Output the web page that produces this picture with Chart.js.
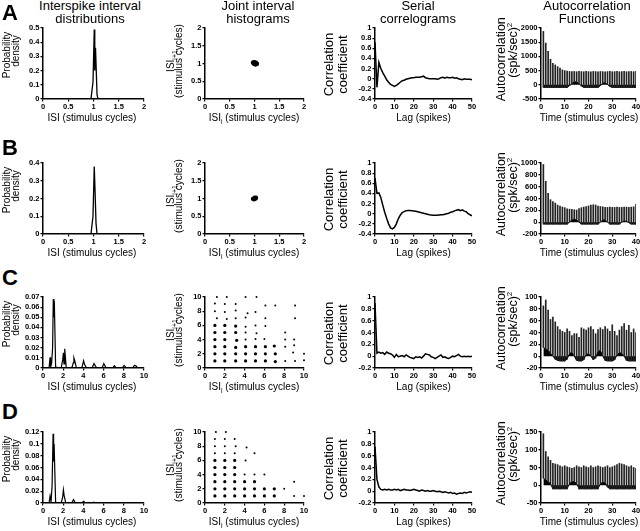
<!DOCTYPE html>
<html lang="en">
<head>
  <meta charset="UTF-8">
  <title>Interval statistics</title>
  <script src="https://cdn.jsdelivr.net/npm/chart.js"></script>
  <style>
    body { margin: 0; background: #fff; }
    #fig { position: relative; width: 640px; height: 531px; overflow: hidden; font-family: "Liberation Sans", Arial, sans-serif; color: #000; }
    #fig canvas { position: absolute; }
    .txt { position: absolute; white-space: nowrap; text-align: center; }
    .sub { font-size: 7px; position: relative; top: 2.5px; }
    .sup { font-size: 8px; position: relative; top: -5px; }
  </style>
</head>
<body>
<div id="fig"></div>

<script>
  // ---- column 1: interspike interval distributions ----
  const ISI_A_X = [0, 0.95, 0.99, 1.015, 1.025, 1.04, 1.07, 1.09, 2];
  const ISI_A_Y = [0, 0, 0.12, 0.49, 0.2, 0.36, 0.03, 0, 0];
  const ISI_B_X = [0, 0.95, 0.99, 1.015, 1.03, 1.05, 1.07, 2];
  const ISI_B_Y = [0, 0, 0.1, 0.38, 0.25, 0.06, 0, 0];
  const ISI_C_X = [0, 0.6, 0.7, 0.75, 0.85, 0.95, 1.02, 1.08, 1.12, 1.25, 1.8, 1.95, 2.02, 2.08, 2.15, 2.3,
                   2.85, 3.0, 3.06, 3.15, 3.3, 3.85, 4.02, 4.1, 4.3, 4.85, 5.05, 5.3, 5.85, 6.02, 6.25,
                   6.9, 7.06, 7.25, 7.85, 8.03, 8.25, 8.85, 9.05, 9.2, 9.35, 10];
  const ISI_C_Y = [0, 0, 0.0105, 0.001, 0.004, 0.02, 0.068, 0.05, 0.066, 0.001, 0, 0.008, 0.015, 0.004, 0.019, 0.0005,
                   0, 0.005, 0.01, 0.007, 0.0003, 0, 0.0072, 0.004, 0.0002, 0, 0.0043, 0.0002, 0, 0.0043, 0.0002,
                   0, 0.0023, 0.0002, 0, 0.0026, 0.0002, 0, 0.0026, 0.0022, 0.0002, 0];
  const ISI_D_X = [0, 0.6, 0.7, 0.8, 0.9, 1.0, 1.05, 1.1, 1.25, 1.8, 1.95, 2.02, 2.1, 2.25, 2.85, 3.02, 3.2,
                   3.85, 4.02, 4.2, 4.85, 5.02, 5.2, 10];
  const ISI_D_Y = [0, 0, 0.012, 0.002, 0.03, 0.117, 0.07, 0.1, 0.001, 0, 0.01, 0.022, 0.012, 0.0005, 0, 0.006, 0.0003,
                   0, 0.003, 0.0002, 0, 0.0015, 0, 0];

  // ---- column 2: joint interval histograms ----
  const JOINT_A_X = [0.97, 1.0, 1.03, 1.05, 0.99, 1.02, 1.04, 0.98];
  const JOINT_A_Y = [1.03, 1.04, 1.02, 0.99, 0.99, 0.97, 1.0, 1.01];
  const JOINT_B_X = [0.97, 1.0, 1.02, 0.99, 1.01, 1.03];
  const JOINT_B_Y = [0.99, 1.02, 1.0, 0.98, 1.01, 1.02];
  const JOINT_C_X = [1.2, 2.2, 4.1, 5.2,
                     1, 2, 3.1, 6.1, 7.1, 9.1,
                     1, 2, 3.1, 4.3, 5.1,
                     1.2, 2.2, 3.1, 4.1, 6.1, 9.1,
                     1, 2, 3.1, 4.1, 5.1, 6.1,
                     1, 2, 3.1, 4.1, 5.2, 8.1,
                     1, 2, 3.2, 4.1, 5.1, 6, 8.1, 9,
                     1, 2, 3.1, 4.1, 5.1, 6.1, 7, 8.1, 9,
                     1, 2, 3.1, 4.1, 5.1, 6.1, 7.1, 8.9, 10,
                     1, 2, 3.1, 4.1, 5.1, 6.1, 7.1, 8.1, 9.1, 10];
  const JOINT_C_Y = [10, 10, 10, 10,
                     9.1, 9, 9, 8.8, 8.8, 8.8,
                     8, 7.9, 8.1, 7.7, 7.9,
                     7, 6.9, 7, 7.1, 7, 7,
                     6, 6, 5.9, 5.8, 6, 5.9,
                     5, 5, 5, 5, 4.9, 5,
                     4, 4, 3.9, 4, 4.1, 4.1, 4, 4,
                     3, 3, 2.9, 3, 3, 3, 3.1, 3, 3.2,
                     2, 2, 2, 2, 2, 2, 2, 2.2, 2,
                     1, 1, 1, 1, 1, 1, 0.9, 1, 1, 1.1];
  const JOINT_D_X = [1.1, 2.1,
                     1, 2, 3,
                     1, 2, 3.1, 4.2,
                     1, 2, 3, 5,
                     1, 2, 3, 4.1,
                     1, 2, 3,
                     1, 2, 3, 4, 5, 6,
                     1, 2, 3, 4, 5, 9,
                     1, 2, 3, 4, 5, 6, 7, 8,
                     1, 2, 3, 4, 5, 6, 7, 9, 10];
  const JOINT_D_Y = [10, 10,
                     9, 9, 9,
                     8, 8, 8, 7.8,
                     7, 7, 7, 7,
                     6, 6, 6, 6,
                     5, 5, 5,
                     4, 4, 4, 4, 4, 4,
                     3, 3, 3, 3, 3, 3,
                     2, 2, 2, 2, 2, 2, 2, 2,
                     1, 1, 1, 1, 1, 1, 1, 1, 1];

  // ---- column 3: serial correlograms (lags 0..50) ----
  const LAGS = [0, 1, 2, 3, 4, 5, 6, 7, 8, 9, 10, 11, 12, 13, 14, 15, 16, 17, 18, 19, 20, 21, 22, 23, 24, 25,
                26, 27, 28, 29, 30, 31, 32, 33, 34, 35, 36, 37, 38, 39, 40, 41, 42, 43, 44, 45, 46, 47, 48, 49, 50];
  const SCC_A = [0.72, -0.17, 0.32, 0.2, 0.12, 0.05, -0.02, -0.07, -0.11, -0.13, -0.15, -0.13, -0.1, -0.07, -0.04,
                 -0.03, -0.01, 0.0, 0.01, 0.02, 0.02, 0.03, 0.03, 0.03, 0.04, 0.05, 0.02, 0.01, 0.0, 0.0, 0.0, 0.0,
                 -0.01, 0.0, 0.02, 0.03, 0.01, 0.03, 0.02, 0.02, 0.03, 0.01, 0.02, 0.0, -0.01, -0.02, 0.0, -0.01,
                 -0.01, -0.01, -0.02];
  const SCC_B = [0.7, 0.4, 0.41, 0.32, 0.17, 0.03, -0.09, -0.2, -0.28, -0.3, -0.27, -0.2, -0.1, -0.03, 0.02, 0.04,
                 0.06, 0.065, 0.065, 0.06, 0.055, 0.05, 0.04, 0.03, 0.02, 0.01, 0.0, -0.01, -0.02, -0.025, -0.03,
                 -0.03, -0.03, -0.025, -0.02, -0.02, -0.01, 0.0, 0.01, 0.03, 0.04, 0.055, 0.07, 0.08, 0.06, 0.075,
                 0.05, 0.04, 0.0, -0.02, -0.04];
  const SCC_C = [0.9, 0.05, 0.07, 0.05, 0.06, 0.03, 0.07, 0.05, 0.04, 0.02, -0.02, 0.03, -0.01, 0.0, 0.01, -0.01,
                 0.02, 0.0, -0.02, -0.03, -0.04, -0.01, -0.02, -0.01, -0.03, 0.0, 0.04, 0.03, 0.02, -0.01, -0.02,
                 -0.04, -0.02, 0.0, 0.02, -0.02, -0.01, -0.03, -0.04, -0.02, 0.0, -0.01, 0.01, 0.03, 0.0, -0.01,
                 0.0, -0.01, 0.0, -0.01, 0.0];
  const SCC_D = [0.75, 0.2, 0.07, 0.03, 0.02, 0.03, 0.02, 0.03, 0.02, 0.02, 0.03, 0.02, 0.03, 0.01, 0.02, 0.03,
                 0.02, 0.02, 0.01, 0.02, 0.03, 0.02, 0.01, 0.0, 0.02, 0.01, 0.0, 0.01, 0.0, 0.0, 0.01, 0.0, -0.01,
                 0.0, -0.01, -0.02, -0.01, -0.02, -0.03, -0.02, -0.04, -0.03, -0.05, -0.04, -0.03, -0.04, -0.02,
                 -0.03, -0.02, -0.01, -0.02];

  // ---- column 4: autocorrelation functions (cycles 1..40) ----
  const CYCLES = [1, 2, 3, 4, 5, 6, 7, 8, 9, 10, 11, 12, 13, 14, 15, 16, 17, 18, 19, 20,
                  21, 22, 23, 24, 25, 26, 27, 28, 29, 30, 31, 32, 33, 34, 35, 36, 37, 38, 39, 40];
  const ACF_A_PEAK = [1880, 1470, 1175, 900, 760, 700, 640, 585, 525, 500, 480, 470, 465, 470, 460, 470, 465, 460,
                      470, 465, 460, 470, 465, 460, 470, 465, 460, 465, 470, 460, 465, 470, 460, 465, 470, 460,
                      465, 470, 460, 470];
  const ACF_A_LOW = [-90, -90, -90, -90, -90, -90, -90, -90, -90, -90, -90, -30, 40, 110, 100, 40, -40, -90, -90,
                     -90, -90, -90, -90, -90, -30, 60, 70, 10, -60, -90, -90, -90, -90, -90, -90, -90, -90, -90,
                     -90, -90];
  const ACF_B_PEAK = [975, 690, 487, 380, 350, 323, 290, 270, 255, 245, 227, 220, 215, 210, 205, 230, 245, 255,
                      265, 275, 290, 295, 290, 270, 265, 260, 250, 250, 255, 250, 250, 255, 250, 250, 255, 255,
                      250, 255, 260, 300];
  const ACF_B_LOW = [-32, -32, -32, -32, -32, -32, -32, -32, -32, -32, -32, 0, 40, 50, 40, 0, -32, -32, -32, -32,
                     -32, -32, -32, -32, 0, 40, 35, 0, -32, -32, -32, -32, -32, 0, 20, 15, -10, -32, -32, -32];
  const ACF_C_PEAK = [85, 95, 78, 62, 66, 58, 50, 45, 42, 40, 46, 42, 35, 38, 38, 32, 48, 46, 44, 48, 50, 45, 38,
                      45, 48, 45, 50, 46, 42, 53, 42, 35, 44, 50, 55, 44, 52, 40, 46, 40];
  const ACF_C_LOW = [15, 12, 10, 5, 0, -5, -7, -8, -8, -8, -5, 5, 6, 0, -7, -8, -8, -6, 3, 4, 0, -6, -3, 8, 10, 0,
                     -7, -8, -8, -8, -6, 2, 6, 5, 0, -7, -8, -8, -8, -8];
  const ACF_D_PEAK = [145, 95, 80, 70, 62, 60, 58, 55, 52, 55, 52, 50, 48, 50, 55, 52, 50, 55, 52, 50, 55, 50, 52,
                      55, 52, 50, 52, 55, 50, 52, 55, 58, 62, 60, 58, 55, 52, 55, 50, 48];
  const ACF_D_LOW = [20, 15, 10, 5, -10, -10, -10, -10, -10, -10, -10, 5, 10, 10, 5, -10, -10, -10, -10, -10, -10,
                     -10, -10, -10, 5, 8, 8, -5, -10, -10, -10, -10, -10, -10, -10, -10, -10, -10, -10, -10];

  // ---- layout ----
  const ROW_TOP = [28, 163, 297, 432];
  const COL_LEFT = [43, 205, 375, 541];
  const COL_W = [101, 99, 97, 95];
  const PLOT_H = 71;
  const YW = 34, PT = 6, PR = 9, XH = 14;
  const FONT = '"Liberation Sans", Arial, sans-serif';
  const fig = document.getElementById('fig');

  function fmtTick(v) {
    return String(parseFloat(Number(v).toFixed(4)));
  }

  function scale(axis, min, max, step) {
    return {
      type: 'linear', min: min, max: max, offset: false,
      ticks: { stepSize: step, autoSkip: false, maxRotation: 0, color: '#000', padding: 1,
               font: { family: FONT, size: 7.5, weight: 'bold' }, callback: fmtTick },
      grid: { drawOnChartArea: false, drawTicks: true, tickLength: 2.5, color: '#000', lineWidth: 1.2, offset: false },
      border: { display: true, color: '#000', width: 1.5 },
      afterFit: function (s) { if (axis === 'x') s.height = XH; else s.width = YW; }
    };
  }

  function panel(row, col, type, datasets, xr, yr) {
    const cv = document.createElement('canvas');
    const w = YW + COL_W[col] + PR, h = PT + PLOT_H + XH;
    cv.width = w; cv.height = h;
    cv.style.left = (COL_LEFT[col] - YW) + 'px';
    cv.style.top = (ROW_TOP[row] - PT) + 'px';
    cv.style.width = w + 'px'; cv.style.height = h + 'px';
    fig.appendChild(cv);
    new Chart(cv, {
      type: type,
      data: { datasets: datasets },
      options: {
        responsive: false, animation: false, devicePixelRatio: 1,
        layout: { padding: { top: PT, right: PR, left: 0, bottom: 0 } },
        plugins: { legend: { display: false }, tooltip: { enabled: false } },
        scales: { x: scale('x', xr[0], xr[1], xr[2]), y: scale('y', yr[0], yr[1], yr[2]) }
      }
    });
  }

  function pts(xs, ys) { return xs.map((x, i) => ({ x: x, y: ys[i] })); }

  function lineSet(xs, ys, width) {
    return { type: 'line', data: pts(xs, ys), borderColor: '#000', borderWidth: width, pointRadius: 0, tension: 0, fill: false };
  }

  function dotSet(xs, ys, big) {
    return { type: 'scatter', data: pts(xs, ys), pointBackgroundColor: '#000', pointBorderWidth: 0, clip: 4,
             pointRadius: big ? ctx => {
               const p = ctx.raw;
               return (p.x <= 7.5 && p.y <= 3.5) || (p.x <= 3.5 && p.y <= 6.5) ? 1.6 : 1.0;
             } : 2.2 };
  }

  function acfSets(peaks, lows) {
    return [
      { type: 'bar', data: CYCLES.map((c, i) => ({ x: c, y: [lows[i], peaks[i]] })),
        backgroundColor: '#222', barThickness: 1, order: 1 },
      { type: 'line', data: pts(CYCLES, lows), borderColor: '#000', borderWidth: 1, backgroundColor: '#000',
        pointRadius: 0, fill: 'origin', order: 2 }
    ];
  }

  // column 1
  panel(0, 0, 'line', [lineSet(ISI_A_X, ISI_A_Y, 1.3)], [0, 2, 0.5], [0, 0.5, 0.1]);
  panel(1, 0, 'line', [lineSet(ISI_B_X, ISI_B_Y, 1.3)], [0, 2, 0.5], [0, 0.4, 0.1]);
  panel(2, 0, 'line', [lineSet(ISI_C_X, ISI_C_Y, 1.2)], [0, 10, 2], [0, 0.07, 0.01]);
  panel(3, 0, 'line', [lineSet(ISI_D_X, ISI_D_Y, 1.2)], [0, 10, 2], [0, 0.12, 0.02]);
  // column 2
  panel(0, 1, 'scatter', [dotSet(JOINT_A_X, JOINT_A_Y, false)], [0, 2, 0.5], [0, 2, 0.5]);
  panel(1, 1, 'scatter', [dotSet(JOINT_B_X, JOINT_B_Y, false)], [0, 2, 0.5], [0, 2, 0.5]);
  panel(2, 1, 'scatter', [dotSet(JOINT_C_X, JOINT_C_Y, true)], [0, 10, 2], [0, 10, 2]);
  panel(3, 1, 'scatter', [dotSet(JOINT_D_X, JOINT_D_Y, true)], [0, 10, 2], [0, 10, 2]);
  // column 3
  panel(0, 2, 'line', [lineSet(LAGS, SCC_A, 1.5)], [0, 50, 10], [-0.4, 1, 0.2]);
  panel(1, 2, 'line', [lineSet(LAGS, SCC_B, 1.5)], [0, 50, 10], [-0.4, 1, 0.2]);
  panel(2, 2, 'line', [lineSet(LAGS, SCC_C, 1.5)], [0, 50, 10], [-0.2, 1, 0.2]);
  panel(3, 2, 'line', [lineSet(LAGS, SCC_D, 1.5)], [0, 50, 10], [-0.2, 1, 0.2]);
  // column 4
  panel(0, 3, 'bar', acfSets(ACF_A_PEAK, ACF_A_LOW), [0, 40, 10], [-500, 2000, 500]);
  panel(1, 3, 'bar', acfSets(ACF_B_PEAK, ACF_B_LOW), [0, 40, 10], [-200, 1000, 200]);
  panel(2, 3, 'bar', acfSets(ACF_C_PEAK, ACF_C_LOW), [0, 40, 10], [-20, 100, 20]);
  panel(3, 3, 'bar', acfSets(ACF_D_PEAK, ACF_D_LOW), [0, 40, 10], [-50, 150, 50]);

  // ---- text ----
  function text(html, cx, cy, size, opts) {
    opts = opts || {};
    const d = document.createElement('div');
    d.className = 'txt';
    d.innerHTML = html;
    const w = 200;
    d.style.left = (cx - w / 2) + 'px';
    d.style.top = (cy - size / 2) + 'px';
    d.style.width = w + 'px';
    d.style.height = size + 'px';
    d.style.fontSize = size + 'px';
    d.style.lineHeight = size + 'px';
    if (opts.bold) d.style.fontWeight = 'bold';
    if (opts.rot) d.style.transform = 'rotate(-90deg)';
    fig.appendChild(d);
  }

  const COL_TITLES = [['Interspike interval', 'distributions', 90], ['Joint interval', 'histograms', 258],
                      ['Serial', 'correlograms', 418], ['Autocorrelation', 'Functions', 587]];
  COL_TITLES.forEach(t => { text(t[0], t[2], 5.8, 13); text(t[1], t[2], 18.2, 13); });

  const LETTERS = [['A', 13], ['B', 148], ['C', 278], ['D', 412]];
  LETTERS.forEach(l => text(l[0], 10, l[1], 22, { bold: true }));

  ROW_TOP.forEach(top => {
    const bot = top + PLOT_H;
    // x titles
    text('ISI (stimulus cycles)', 92, bot + 19.4, 10);
    text('ISI<span class="sub">i</span> (stimulus cycles)', 254, bot + 19.4, 10);
    text('Lag (spikes)', 423.5, bot + 19.4, 10);
    text('Time (stimulus cycles)', 589, bot + 19.4, 10);
    // y titles
    text('Probability', 7, top + 27, 10, { rot: true });
    text('density', 16, top + 23, 10, { rot: true });
    text('ISI<span class="sub">i+1</span>', 170.5, top + 33, 10, { rot: true });
    text('(stimulus cycles)', 179, top + 33, 10, { rot: true });
    text('Correlation', 327.5, top + 36, 13, { rot: true });
    text('coefficient', 342, top + 36, 13, { rot: true });
    text('Autocorrelation', 501, top + 31, 12.5, { rot: true });
    text('(spk/sec)<span class="sup">2</span>', 513, top + 22, 12.5, { rot: true });
  });
</script>
</body>
</html>
